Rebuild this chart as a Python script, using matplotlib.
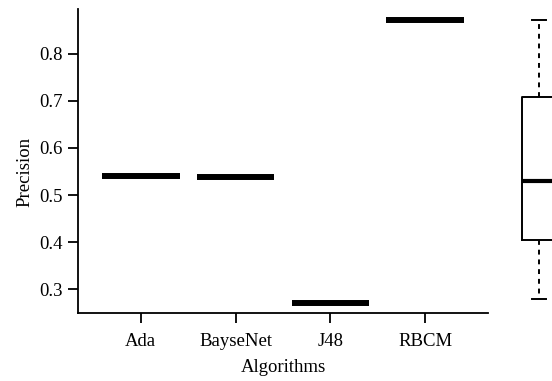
import matplotlib
matplotlib.use("Agg")
import matplotlib.pyplot as plt

# precision per algorithm (one value each)
algorithms = ["Ada", "BayseNet", "J48", "RBCM"]
precision = [0.540, 0.538, 0.272, 0.870]

# summary box on the right
box_low = 0.279
box_q1 = 0.405
box_med = 0.530
box_q3 = 0.7085
box_high = 0.872

plt.rcParams["font.family"] = ["Liberation Serif", "DejaVu Serif"]
plt.rcParams["font.size"] = 13.5

W, H = 552, 381
fig = plt.figure(figsize=(W / 100, H / 100), dpi=100)

ylo, yhi = 0.2502, 0.8943

# left panel
ax = fig.add_axes([78 / W, (H - 313) / H, 410 / W, 304 / H])
xs = list(range(1, len(algorithms) + 1))
ax.hlines(precision, [x - 0.41 for x in xs], [x + 0.41 for x in xs],
          colors="black", linewidth=4.3, capstyle="butt")
ax.set_xlim(0.34, 4.66)
ax.set_ylim(ylo, yhi)
ax.set_xticks(xs)
ax.set_xticklabels(algorithms)
ax.set_yticks([0.3, 0.4, 0.5, 0.6, 0.7, 0.8])
ax.set_yticklabels(["0.3", "0.4", "0.5", "0.6", "0.7", "0.8"])
for s in ["top", "right"]:
    ax.spines[s].set_visible(False)
for s in ["left", "bottom"]:
    ax.spines[s].set_linewidth(1.3)
ax.tick_params(axis="both", length=7.2, width=1.3, direction="out")
ax.tick_params(axis="y", pad=3.6)
ax.tick_params(axis="x", pad=7.5)
ax.set_xlabel("Algorithms", labelpad=6)
ax.set_ylabel("Precision")
ax.yaxis.set_label_coords(-45 / 410, (313 - 171.5) / 304)

# right panel, partly outside the figure
ax2 = fig.add_axes([500 / W, (H - 313) / H, 78 / W, 304 / H])
stats = [{"whislo": box_low, "q1": box_q1, "med": box_med,
          "q3": box_q3, "whishi": box_high}]
ax2.bxp(stats, positions=[1], widths=0.444, capwidths=0.192,
        showfliers=False, patch_artist=False,
        boxprops=dict(color="black", linewidth=1.4),
        medianprops=dict(color="black", linewidth=3.0, solid_capstyle="butt"),
        whiskerprops=dict(color="black", linewidth=1.4, linestyle=(0, (2.5, 2.5))),
        capprops=dict(color="black", linewidth=1.4))
ax2.set_xlim(0.5, 1.5)
ax2.set_ylim(ylo, yhi)
ax2.axis("off")

fig.savefig("out.png", dpi=100)
